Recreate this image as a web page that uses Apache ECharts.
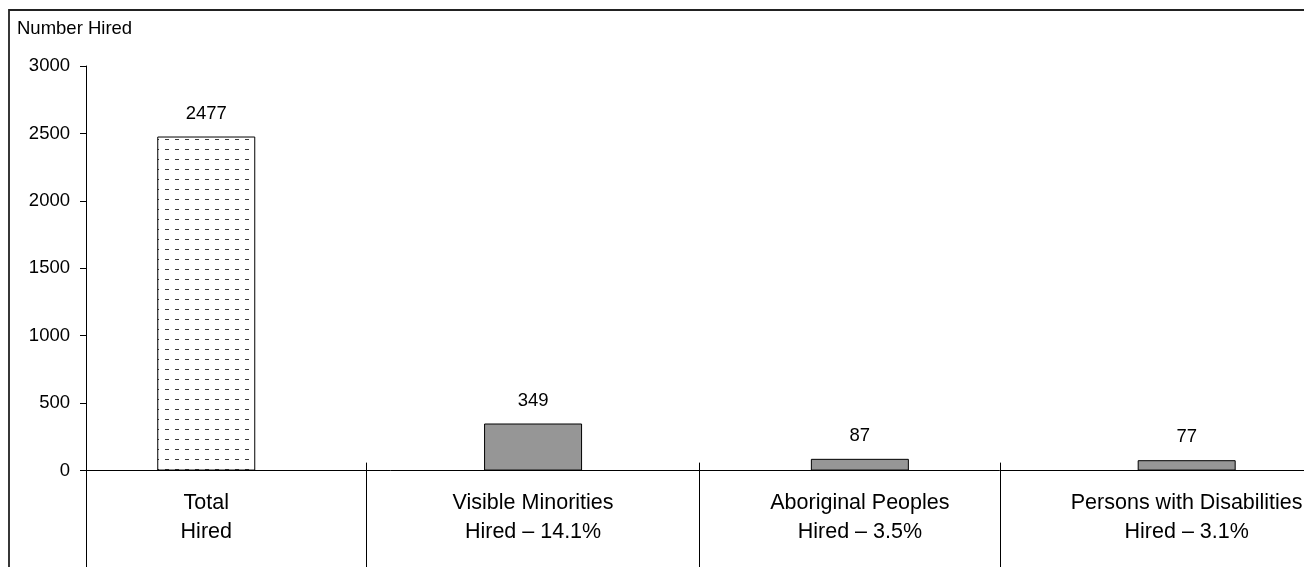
<!DOCTYPE html>
<html>
<head>
<meta charset="utf-8">
<title>Number Hired</title>
<script src="https://cdn.jsdelivr.net/npm/echarts@6/dist/echarts.min.js"></script>
<style>
  html, body { margin: 0; padding: 0; background: #fff; }
  #chart { width: 1304px; height: 567px; }
</style>
</head>
<body>
<div id="chart"></div>
<script>
// Hiring figures by group
const categories = [
  'Total\nHired',
  'Visible Minorities\nHired \u2013 14.1%',
  'Aboriginal Peoples\nHired \u2013 3.5%',
  'Persons with Disabilities\nHired \u2013 3.1%'
];
const hired = [2477, 349, 87, 77];
const yTickValues = [0, 500, 1000, 1500, 2000, 2500, 3000];

// Layout: the plot runs below the zero line down to the bottom edge,
// so the value axis starts below zero and the category text sits in that band.
const Y_MAX = 3000;
const Y_MIN = -715;
const X_MIN = -0.368;
const X_MAX = 3.359;
const DIVIDERS = [0.49, 1.51, 2.43];   // category boundaries
const DIVIDER_TOP = 59;                // dividers poke just above the zero line

const FONT = '"Liberation Sans", Arial, Helvetica, sans-serif';

// Small dash pattern for the total bar
function makeDashPattern() {
  const c = document.createElement('canvas');
  c.width = 10; c.height = 10;
  const g = c.getContext('2d');
  g.fillStyle = '#ffffff';
  g.fillRect(0, 0, 10, 10);
  g.fillStyle = '#3a3a3a';
  g.fillRect(5, 9, 4, 1);
  return c;
}

const totalStyle = {
  color: { image: makeDashPattern(), repeat: 'repeat' },
  borderColor: '#000',
  borderWidth: 1
};
const groupStyle = {
  color: '#969696',
  borderColor: '#000',
  borderWidth: 1
};

const barData = hired.map((v, i) => ({
  value: [i, v],
  itemStyle: i === 0 ? totalStyle : groupStyle
}));

const chart = echarts.init(document.getElementById('chart'), null, { renderer: 'canvas' });

chart.setOption({
  animation: false,
  backgroundColor: '#ffffff',
  textStyle: { fontFamily: FONT, color: '#000' },
  title: {
    text: 'Number Hired',
    left: 17,
    top: 19,
    padding: 0,
    textStyle: { fontFamily: FONT, fontSize: 18.5, fontWeight: 'normal', color: '#000' }
  },
  graphic: [{
    type: 'rect',
    silent: true,
    shape: { x: 9, y: 10, width: 1400, height: 700 },
    style: { fill: 'none', stroke: '#222', lineWidth: 1.8 }
  }],
  grid: { left: 86, right: 0, top: 66, bottom: 0, containLabel: false, outerBoundsMode: 'none' },
  xAxis: {
    type: 'value',
    min: X_MIN,
    max: X_MAX,
    splitLine: { show: false },
    axisLine: { show: true, onZero: true, lineStyle: { color: '#000', width: 1 } },
    axisTick: { show: false },
    axisLabel: {
      customValues: [0, 1, 2, 3],
      formatter: (v) => categories[Math.round(v)] || '',
      // labels sit in the band just under the zero line
      margin: -78,
      fontFamily: FONT,
      fontSize: 21.5,
      lineHeight: 29,
      color: '#000',
      align: 'center'
    }
  },
  yAxis: {
    type: 'value',
    min: Y_MIN,
    max: Y_MAX,
    splitLine: { show: false },
    axisLine: { show: true, onZero: false, lineStyle: { color: '#000', width: 1 } },
    axisTick: {
      show: true,
      customValues: yTickValues,
      length: 6,
      lineStyle: { color: '#000', width: 1 }
    },
    axisLabel: {
      customValues: yTickValues,
      formatter: (v) => String(v),
      margin: 16,
      fontFamily: FONT,
      fontSize: 18.5,
      color: '#000'
    }
  },
  series: [{
    type: 'bar',
    barWidth: 98,
    data: barData,
    label: {
      show: true,
      position: 'top',
      distance: 13.5,
      fontFamily: FONT,
      fontSize: 18.5,
      color: '#000',
      formatter: (p) => String(p.value[1])
    },
    emphasis: { disabled: true },
    markLine: {
      silent: true,
      symbol: ['none', 'none'],
      label: { show: false },
      emphasis: { disabled: true },
      lineStyle: { color: '#000', width: 1, type: 'solid' },
      data: DIVIDERS.map((b) => [
        { coord: [b, DIVIDER_TOP] },
        { coord: [b, Y_MIN] }
      ])
    }
  }]
});
</script>
</body>
</html>
